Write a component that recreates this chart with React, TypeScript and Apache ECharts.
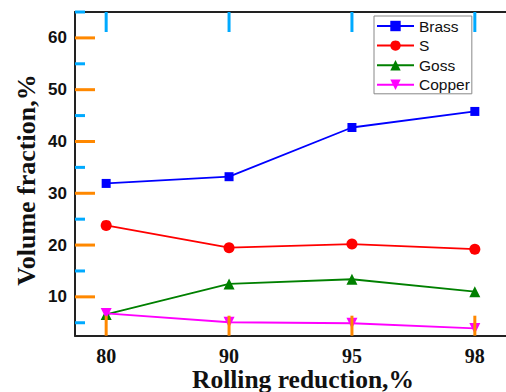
import React, { useEffect, useRef } from "react";
import * as echarts from "echarts";

const categories = ["80", "90", "95", "98"];
const brass = [31.9, 33.2, 42.7, 45.8];
const sTex = [23.8, 19.5, 20.2, 19.2];
const goss = [6.6, 12.5, 13.4, 11.0];
const copper = [6.8, 5.1, 4.9, 3.9];
const yMajorTicks = [10, 20, 30, 40, 50, 60];
const yMinorTicks = [5, 15, 25, 35, 45, 55, 65];

const toPairs = (arr: number[]) => arr.map((v, i) => [i, v]);

export default function App() {
  const ref = useRef<HTMLDivElement>(null);
  useEffect(() => {
    if (!ref.current) return;
    const chart = echarts.init(ref.current, undefined, { renderer: "svg" });
    const idx = categories.map((_, i) => i);
    const xMin = -0.2536;
    const xMax = categories.length - 1 + 0.2536;
    const yMin = 2.5;
    const yMax = 65;
    const axisColor = "#222";
    const mk = (name: string, data: number[], color: string, symbol: string, size: number, rotate = 0) => ({
      name,
      type: "line",
      data: toPairs(data),
      symbol,
      symbolSize: size,
      symbolRotate: rotate,
      itemStyle: { color },
      lineStyle: { color, width: 1.8 },
      z: 3,
    });
    const titles = [
      {
        type: "text",
        x: 26,
        y: 180,
        rotation: Math.PI / 2,
        style: {
          text: "Volume fraction,%",
          fontFamily: "Liberation Serif",
          fontWeight: "bold",
          fontSize: 26,
          fill: "#111",
          align: "center",
          verticalAlign: "middle",
        },
      },
      {
        type: "text",
        x: 303,
        y: 379,
        style: {
          text: "Rolling reduction,%",
          fontFamily: "Liberation Serif",
          fontWeight: "bold",
          fontSize: 25.5,
          fill: "#111",
          align: "center",
          verticalAlign: "middle",
        },
      },
    ];
    chart.setOption({
      animation: false,
      backgroundColor: "#fff",
      grid: { left: 75, top: 12, right: -8.4, bottom: 56.3, containLabel: false },
      xAxis: [
        {
          type: "value",
          position: "bottom",
          min: xMin,
          max: xMax,
          axisLine: { show: true, onZero: false, lineStyle: { color: axisColor, width: 2 } },
          axisTick: { show: false },
          axisLabel: {
            customValues: idx,
            formatter: (v: number) => categories[Math.round(v)] ?? "",
            fontFamily: "Liberation Serif",
            fontWeight: "bold",
            fontSize: 20,
            color: "#111",
            margin: 10,
          },
          splitLine: { show: false },
        },
        {
          type: "value",
          position: "top",
          min: xMin,
          max: xMax,
          axisLine: { show: true, onZero: false, lineStyle: { color: axisColor, width: 2 } },
          axisTick: { show: false },
          axisLabel: { show: false },
          splitLine: { show: false },
        },
      ],
      yAxis: [
        {
          type: "value",
          position: "left",
          min: yMin,
          max: yMax,
          axisLine: { show: true, onZero: false, lineStyle: { color: axisColor, width: 2 } },
          axisTick: { show: false },
          axisLabel: {
            customValues: yMajorTicks,
            fontFamily: "Liberation Sans",
            fontWeight: "bold",
            fontSize: 17,
            color: "#111",
            margin: 8,
          },
          splitLine: { show: false },
        },
      ],
      legend: {
        left: 374,
        top: 16,
        orient: "vertical",
        padding: [2, 2, 1, 2],
        itemWidth: 37,
        itemHeight: 13,
        itemGap: 3.6,
        borderColor: "#888",
        borderWidth: 1,
        lineStyle: { width: 2 },
        textStyle: { fontFamily: "Liberation Sans", fontSize: 15.5, color: "#111" },
        data: ["Brass", "S", "Goss", "Copper"],
      },
      graphic: titles,
      series: [
        mk("Brass", brass, "#0000ff", "rect", 9),
        mk("S", sTex, "#ff0000", "circle", 11),
        mk("Goss", goss, "#008000", "triangle", 11),
        mk("Copper", copper, "#ff00ff", "triangle", 11, 180),
      ],
    });
    // tick marks placed through the axes' scales (diagnostic: long, coloured)
    const px = (x: number, y: number) => chart.convertToPixel({ gridIndex: 0 }, [x, y]) as number[];
    const tickLines: any[] = [];
    const addTick = (x: number, y: number, dx: number, dy: number, c: string) => {
      const p = px(x, y);
      tickLines.push({
        type: "line",
        z: 100,
        shape: { x1: p[0], y1: p[1], x2: p[0] + dx, y2: p[1] + dy },
        style: { stroke: c, lineWidth: 3 },
      });
    };
    yMajorTicks.forEach((v) => addTick(xMin, v, 20, 0, "#ff8800"));
    yMinorTicks.forEach((v) => addTick(xMin, v, 10, 0, "#00aaff"));
    idx.forEach((i) => addTick(i, yMin, 0, -20, "#ff8800"));
    idx.forEach((i) => addTick(i, yMax, 0, 20, "#00aaff"));
    chart.setOption({ graphic: [...titles, ...tickLines] });
    return () => chart.dispose();
  }, []);
  return <div ref={ref} style={{ width: 506, height: 392, position: "fixed", left: 0, top: 0 }} />;
}
